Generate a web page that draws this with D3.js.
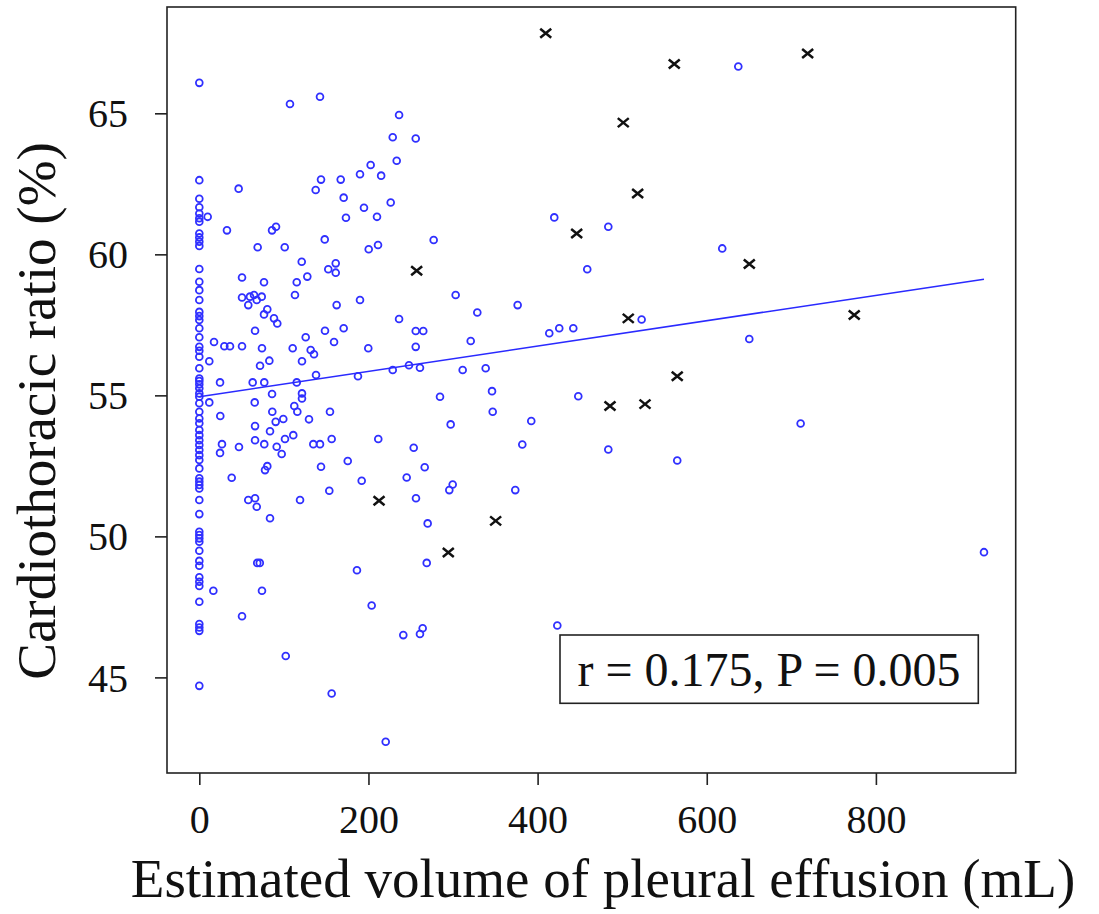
<!DOCTYPE html>
<html><head><meta charset="utf-8">
<script src="https://cdn.jsdelivr.net/npm/d3@7"></script>
<style>body{margin:0;background:#fff}svg{display:block}</style>
</head><body><svg id="c" width="1099" height="914"></svg>
<script>
// ---- data ----
const xTicks = [0, 200, 400, 600, 800];
const yTicks = [45, 50, 55, 60, 65];
// patients with estimated volume 0 mL
const zeroVolumeCTR = [66.08,62.63,61.97,61.67,61.45,61.28,61.16,60.74,60.60,60.45,60.30,
  59.48,59.03,58.73,58.38,57.96,57.81,57.67,57.38,57.06,56.72,56.58,56.37,55.96,55.60,55.51,55.39,55.25,55.07,54.95,54.72,54.42,54.18,54.01,53.77,53.59,53.41,53.24,53.06,52.88,52.71,52.41,52.06,51.94,51.82,51.70,51.29,
  50.79,50.16,50.05,49.93,49.81,49.49,49.13,48.96,48.55,48.39,48.24,47.68,46.89,46.77,46.65,44.70];
const otherVolume = [107.2,142.7,46.5,137.6,143.9,167.2,190,202.6,215,9.9,32.7,86,90.7,148.3,170.7,194.7,173.4,210.1,69,101,200.3,211.3,
  121.1,152.5,161.3,161.3,50.5,76.5,115.2,127.7,50.5,59.9,64.7,67.9,73.8,57.9,113.1,162.4,190,80.4,76.5,88.3,92.2,65.9,125.8,148.6,159.3,170.7,17.4,29.6,36.3,50.5,74.1,110.4,131.7,135.6,199.8,11.8,71.8,82.8,121.4,138,187.6,24.5,63.1,76.8,115.2,121.4,121.4,86,11.8,65.5,112.3,115.9,86.3,24.8,154.5,90.3,99.3,129.7,65.9,83.6,26.8,24.5,46.9,65.9,76.8,91.5,97.4,101.3,111.1,134.8,142.7,156.5,175.5,211.6,77.7,80.4,143.9,38.3,192,153.7,57.9,65.9,119.1,67.9,
  83.6,68.5,71.5,186.4,16.6,74.1,203.8,50.5,102.2,156.5,
  236.2,228.7,255.9,233.4,226.3,277.1,419.7,483.6,458.7,236.2,303.1,328.7,376.4,523,255.9,264.8,255.9,320.9,413.8,425.6,442.2,228.7,247.9,260.9,311.4,338.6,346.1,284.6,448.1,
  346.9,297.2,392.5,253.5,381.9,483.6,245.2,266.5,256.2,295.6,299.6,373.6,270,268.9,241.2,260.9,264.1,423.3,220.4,
  637.3,618.3,650.3,711,565.1,927.8];
const otherCTR = [65.33,65.59,62.33,62.28,62.65,62.65,62.84,63.17,62.79,61.33,60.85,60.85,60.98,60.53,62.01,61.65,61.30,61.33,60.25,60.25,60.18,60.33,
  59.74,59.47,59.68,59.35,59.18,59.01,59.01,59.21,58.47,58.50,58.56,58.38,58.50,58.20,58.56,58.20,58.38,58.05,57.87,57.73,57.55,57.29,57.06,57.29,56.89,57.38,56.89,56.74,56.74,56.74,56.67,56.67,56.61,56.46,56.67,56.21,56.05,56.23,56.21,55.72,55.68,55.46,55.46,55.46,55.46,55.07,54.89,55.05,54.75,54.75,54.62,54.42,54.42,54.27,54.42,54.06,54.16,54.15,53.91,53.73,53.27,52.96,53.17,53.41,53.27,53.18,52.92,53.45,53.59,53.27,53.27,53.45,52.67,53.45,52.35,52.49,52.47,52.08,51.97,51.62,51.29,51.35,51.29,51.05,
  50.64,49.06,49.06,48.80,48.07,48.07,47.55,47.17,45.76,44.43,
  64.94,64.15,64.11,63.32,61.84,60.51,61.31,60.98,59.47,57.71,58.56,57.94,58.20,57.69,57.28,57.28,56.72,56.93,57.20,57.38,57.38,55.90,56.07,55.98,55.90,55.96,55.15,54.95,54.97,
  54.42,53.97,54.09,53.14,53.26,53.08,52.09,52.45,51.35,51.64,51.84,51.64,50.46,49.06,46.50,46.54,46.74,46.84,42.72,
  66.66,60.21,57.00,54.00,52.69,49.44];
const crossVolume = [409.6,501.3,518.3,446.2,257,507.2,561.6,719.3,650.3,774.4,565.1,485.6,527,212.5,350.4,294.4];
const crossCTR = [67.84,64.67,62.16,60.74,59.42,57.73,66.75,67.12,59.66,57.85,55.68,54.62,54.69,51.26,50.55,49.43];
const fitVolume = [0, 927.8];
const fitCTR = [54.95, 59.12];
const statText = "r = 0.175, P = 0.005";
const xTitle = "Estimated volume of pleural effusion (mL)";
const yTitle = "Cardiothoracic ratio (%)";

// ---- layout ----
const L = 167, R = 1015.7, T = 7, B = 773;
const FONT = "'Liberation Serif','Times New Roman',serif";
const svg = d3.select("#c");
const x = d3.scaleLinear().domain([-38.2, 965.3]).range([L, R]);
const y = d3.scaleLinear().domain([41.61, 68.77]).range([B, T]);

const bluePts = zeroVolumeCTR.map(v => [0, v]).concat(otherVolume.map((v, i) => [v, otherCTR[i]]));
const crossPts = crossVolume.map((v, i) => [v, crossCTR[i]]);

// points
svg.append("g").selectAll("circle").data(bluePts).join("circle")
  .attr("cx", d => x(d[0])).attr("cy", d => y(d[1])).attr("r", 3.4)
  .attr("fill", "none").attr("stroke", "#3030ff").attr("stroke-width", 1.8);

// regression line
svg.append("path").datum(fitVolume.map((v, i) => [v, fitCTR[i]]))
  .attr("d", d3.line().x(d => x(d[0])).y(d => y(d[1])))
  .attr("fill", "none").attr("stroke", "#2a2aff").attr("stroke-width", 1.5);

// crosses
svg.append("g").selectAll("path").data(crossPts).join("path")
  .attr("transform", d => `translate(${x(d[0])},${y(d[1])})`)
  .attr("d", "M-5.5,-4.5L5.5,4.5M-5.5,4.5L5.5,-4.5")
  .attr("stroke", "#111").attr("stroke-width", 2.5).attr("fill", "none");

// frame
svg.append("rect").attr("x", L).attr("y", T).attr("width", R - L).attr("height", B - T)
  .attr("fill", "none").attr("stroke", "#222").attr("stroke-width", 1.6);

// axes
const gx = svg.append("g").attr("transform", `translate(0,${B})`)
  .call(d3.axisBottom(x).tickValues(xTicks).tickSize(12).tickSizeOuter(0).tickFormat(d3.format("d")));
gx.select(".domain").remove();
gx.selectAll("line").attr("stroke", "#222").attr("stroke-width", 1.6);
gx.selectAll("text").attr("y", 59.7).attr("dy", null)
  .style("font-family", FONT).style("font-size", "40px").attr("fill", "#111");

const gy = svg.append("g").attr("transform", `translate(${L},0)`)
  .call(d3.axisLeft(y).tickValues(yTicks).tickSize(12).tickSizeOuter(0).tickFormat(d3.format("d")));
gy.select(".domain").remove();
gy.selectAll("line").attr("stroke", "#222").attr("stroke-width", 1.6);
gy.selectAll("text").attr("x", -39).attr("dy", "0.34em")
  .style("font-family", FONT).style("font-size", "40px").attr("fill", "#111");

// titles
svg.append("text").attr("x", 603).attr("y", 897).attr("text-anchor", "middle")
  .style("font-family", FONT).style("font-size", "55px").attr("fill", "#111").text(xTitle);
svg.append("text").attr("transform", "translate(55,411) rotate(-90)").attr("text-anchor", "middle")
  .style("font-family", FONT).style("font-size", "55px").attr("fill", "#111").text(yTitle);

// stats box
svg.append("rect").attr("x", 560).attr("y", 635).attr("width", 418.3).attr("height", 68.3)
  .attr("fill", "#fff").attr("stroke", "#222").attr("stroke-width", 1.6);
svg.append("text").attr("x", 769).attr("y", 686).attr("text-anchor", "middle")
  .style("font-family", FONT).style("font-size", "48px").attr("fill", "#111").text(statText);
</script></body></html>
